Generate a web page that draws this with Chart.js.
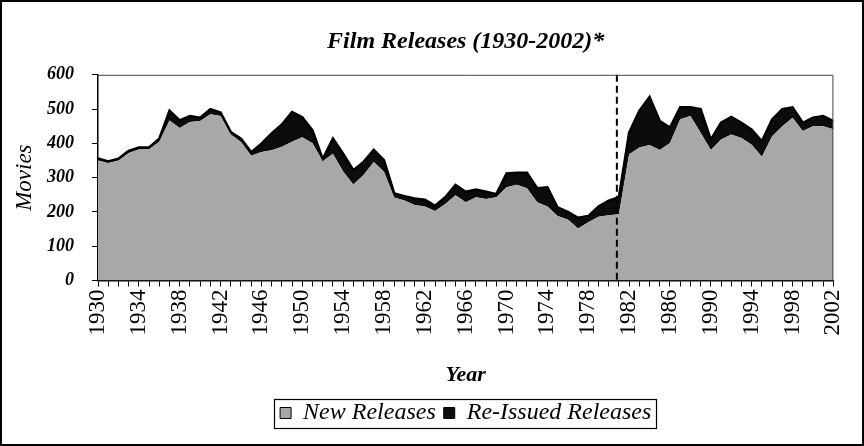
<!DOCTYPE html>
<html><head><meta charset="utf-8">
<script src="https://cdn.jsdelivr.net/npm/chart.js@4/dist/chart.umd.min.js"></script>
<style>html,body{margin:0;padding:0;background:#fff}canvas{display:block}</style>
</head><body>
<canvas id="c" width="864" height="446"></canvas>
<script>
const years = [1930,1931,1932,1933,1934,1935,1936,1937,1938,1939,1940,1941,1942,1943,1944,1945,1946,1947,1948,1949,
  1950,1951,1952,1953,1954,1955,1956,1957,1958,1959,1960,1961,1962,1963,1964,1965,1966,1967,1968,1969,
  1970,1971,1972,1973,1974,1975,1976,1977,1978,1979,1980,1981,1982,1983,1984,1985,1986,1987,1988,1989,
  1990,1991,1992,1993,1994,1995,1996,1997,1998,1999,2000,2001,2002];
const newReleases = [350,343,350,372,382,383,405,467,445,462,465,485,480,426,404,364,375,380,390,405,
  418,400,348,370,318,280,308,346,317,242,233,220,216,203,223,249,228,243,238,243,
  272,279,269,228,216,188,178,152,170,186,190,193,368,388,395,381,401,470,480,431,
  381,411,426,416,396,361,421,450,475,436,450,450,441];
const reissuedReleases = [6,4,5,6,6,5,9,28,22,18,10,15,10,7,10,10,24,49,65,86,
  58,38,6,44,52,42,38,35,34,12,13,19,20,15,20,30,31,22,21,9,
  40,35,45,41,56,25,22,31,18,30,43,50,63,107,140,84,45,35,25,69,
  30,49,51,44,44,45,49,50,30,24,25,30,24];
const yTicks = [0,100,200,300,400,500,600];
const xTickYears = [1930,1934,1938,1942,1946,1950,1954,1958,1962,1966,1970,1974,1978,1982,1986,1990,1994,1998,2002];
const markerYear = 1980.8;

const SERIF = "'Liberation Serif','Times New Roman',serif";

const framePlugin = {
  id: 'frame',
  beforeDraw(chart) {
    const {ctx, width, height} = chart;
    ctx.save(); ctx.fillStyle = '#fff'; ctx.fillRect(0, 0, width, height); ctx.restore();
  },
  afterDatasetsDraw(chart) {
    const {ctx, chartArea: a, scales: {x}} = chart;
    const px = x.getPixelForValue(markerYear);
    ctx.save();
    ctx.strokeStyle = '#000'; ctx.lineWidth = 2; ctx.setLineDash([7, 4]);
    ctx.beginPath(); ctx.moveTo(px, a.top); ctx.lineTo(px, a.bottom); ctx.stroke();
    ctx.setLineDash([]);
    ctx.lineWidth = 1; ctx.strokeStyle = '#444';
    ctx.beginPath();
    ctx.moveTo(a.left, a.top + 0.5); ctx.lineTo(a.right - 0.5, a.top + 0.5); ctx.lineTo(a.right - 0.5, a.bottom);
    ctx.stroke();
    ctx.restore();
  },
  afterDraw(chart) {
    const {ctx, width, height} = chart;
    ctx.save();
    ctx.strokeStyle = '#000'; ctx.lineWidth = 2;
    ctx.strokeRect(1, 1, width - 2, height - 2);
    const hb = chart.legend.legendHitBoxes;
    if (hb && hb.length) {
      const l = Math.min(...hb.map(b => b.left)) - 6;
      const r = Math.max(...hb.map(b => b.left + b.width)) + 5;
      const t = Math.min(...hb.map(b => b.top)) - 2;
      const bt = Math.max(...hb.map(b => b.top + b.height)) + 3;
      ctx.lineWidth = 1.2;
      ctx.strokeRect(Math.round(l) + 0.5, Math.round(t) + 0.5, Math.round(r - l), Math.round(bt - t));
    }
    ctx.restore();
  }
};

new Chart(document.getElementById('c'), {
  type: 'line',
  data: {
    datasets: [
      {
        label: 'New Releases',
        data: years.map((yr, i) => ({x: yr, y: newReleases[i]})),
        fill: 'origin',
        backgroundColor: '#a8a8a8',
        borderColor: '#a8a8a8',
        borderWidth: 0,
        pointRadius: 0,
        tension: 0
      },
      {
        label: 'Re-Issued Releases',
        data: years.map((yr, i) => ({x: yr, y: reissuedReleases[i]})),
        fill: '-1',
        backgroundColor: '#0c0c0c',
        borderColor: '#000',
        borderWidth: 2.5,
        pointRadius: 0,
        tension: 0
      }
    ]
  },
  options: {
    responsive: false,
    devicePixelRatio: 1,
    animation: false,
    layout: {padding: {left: 8, right: 14, top: 10, bottom: 11}},
    plugins: {
      tooltip: {enabled: false},
      title: {
        display: true,
        fullSize: false,
        text: 'Film Releases (1930-2002)*',
        color: '#000',
        font: {family: SERIF, size: 24, style: 'italic', weight: 'bold'},
        padding: {top: 17, bottom: 19}
      },
      legend: {
        position: 'bottom',
        fullSize: false,
        labels: {
          color: '#000',
          font: {family: SERIF, size: 24, style: 'italic'},
          boxWidth: 11,
          boxHeight: 11,
          padding: 8,
          generateLabels(chart) {
            return chart.data.datasets.map((ds, i) => ({
              text: ds.label,
              fillStyle: ds.backgroundColor,
              strokeStyle: '#000',
              lineWidth: 1,
              fontColor: '#000',
              datasetIndex: i,
              hidden: false
            }));
          }
        }
      }
    },
    scales: {
      x: {
        type: 'linear',
        min: years[0],
        max: years[years.length - 1],
        afterBuildTicks(s) { s.ticks = years.map(v => ({value: v})); },
        afterFit(s) { s.height = 112.5; },
        ticks: {
          autoSkip: false,
          maxRotation: 90,
          minRotation: 90,
          color: '#000',
          padding: 3,
          font: {family: SERIF, size: 23},
          callback: (v) => xTickYears.includes(v) ? String(v) : ''
        },
        grid: {drawOnChartArea: false, color: '#000', tickLength: 6, lineWidth: 1},
        border: {color: '#000', width: 1.5},
        title: {
          display: true, text: 'Year', color: '#000',
          font: {family: SERIF, size: 22, style: 'italic', weight: 'bold'},
          padding: {top: 0, bottom: 4}
        }
      },
      y: {
        stacked: true,
        min: 0,
        max: 600,
        afterBuildTicks(s) { s.ticks = yTicks.map(v => ({value: v})); },
        afterFit(s) { s.width = 90; },
        ticks: {
          color: '#000',
          padding: 18,
          font: {family: SERIF, size: 18, style: 'italic', weight: 'bold'}
        },
        grid: {drawOnChartArea: false, color: '#000', tickLength: 6, lineWidth: 1},
        border: {color: '#000', width: 1.5},
        title: {
          display: true, text: 'Movies', color: '#000',
          font: {family: SERIF, size: 23, style: 'italic'},
          padding: {top: 3, bottom: 0}
        }
      }
    }
  },
  plugins: [framePlugin]
});
</script>
</body></html>
